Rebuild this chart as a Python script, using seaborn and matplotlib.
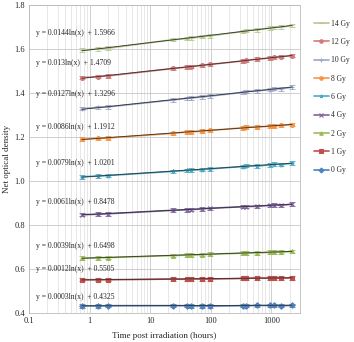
import numpy as np
import seaborn as sns
import matplotlib.pyplot as plt

# time points (hours) and net optical density per dose
times = [0.75, 1.4, 2, 24, 40, 48, 72, 96, 336, 384, 576, 960, 1128, 1440, 2200]
doses = ["14 Gy", "12 Gy", "10 Gy", "8 Gy", "6 Gy", "4 Gy", "2 Gy", "1 Gy", "0 Gy"]
od_14 = [1.595, 1.601, 1.604, 1.643, 1.648, 1.650, 1.657, 1.660, 1.680, 1.684, 1.688, 1.696, 1.699, 1.700, 1.708]
od_12 = [1.470, 1.475, 1.478, 1.512, 1.518, 1.520, 1.526, 1.530, 1.546, 1.549, 1.554, 1.560, 1.562, 1.566, 1.570]
od_10 = [1.329, 1.335, 1.337, 1.369, 1.376, 1.378, 1.383, 1.386, 1.403, 1.407, 1.410, 1.416, 1.420, 1.419, 1.427]
od_8 = [1.190, 1.194, 1.196, 1.217, 1.223, 1.224, 1.227, 1.230, 1.242, 1.246, 1.245, 1.250, 1.251, 1.253, 1.257]
od_6 = [1.019, 1.023, 1.025, 1.044, 1.048, 1.049, 1.052, 1.055, 1.066, 1.070, 1.068, 1.074, 1.078, 1.075, 1.081]
od_4 = [0.847, 0.849, 0.851, 0.867, 0.869, 0.870, 0.873, 0.876, 0.883, 0.884, 0.885, 0.889, 0.892, 0.889, 0.895]
od_2 = [0.649, 0.651, 0.652, 0.661, 0.663, 0.663, 0.665, 0.667, 0.672, 0.673, 0.673, 0.676, 0.678, 0.676, 0.680]
od_1 = [0.551, 0.551, 0.551, 0.554, 0.553, 0.555, 0.554, 0.554, 0.557, 0.557, 0.559, 0.558, 0.559, 0.558, 0.560]
od_0 = [0.432, 0.432, 0.433, 0.433, 0.433, 0.432, 0.432, 0.431, 0.433, 0.433, 0.434, 0.434, 0.434, 0.433, 0.434]
series = [od_14, od_12, od_10, od_8, od_6, od_4, od_2, od_1, od_0]

# trendline equations as printed on the chart
slopes = [0.0144, 0.013, 0.0127, 0.0086, 0.0079, 0.0061, 0.0039, 0.0012, 0.0003]
intercepts = [1.5966, 1.4709, 1.3296, 1.1912, 1.0201, 0.8478, 0.6498, 0.5505, 0.4325]
eq_labels = ["y = 0.0144ln(x)  + 1.5966", "y = 0.013ln(x)  + 1.4709", "y = 0.0127ln(x)  + 1.3296",
             "y = 0.0086ln(x)  + 1.1912", "y = 0.0079ln(x)  + 1.0201", "y = 0.0061ln(x)  + 0.8478",
             "y = 0.0039ln(x)  + 0.6498", "y = 0.0012ln(x)  + 0.5505", "y = 0.0003ln(x)  + 0.4325"]
eq_y = [1.673, 1.536, 1.396, 1.246, 1.082, 0.905, 0.705, 0.600, 0.473]

colors = ["#B3C98A", "#D47A78", "#9AA6CB", "#F79646", "#4BACC6", "#8064A2", "#9BBB59", "#C0504D", "#4F81BD"]
markers = ["_", "o", "+", "o", "*", "x", "^", "s", "D"]

sns.set_style("white")
plt.rcParams["font.family"] = ["Liberation Serif", "DejaVu Serif"]

fig = plt.figure(figsize=(3.54, 3.42), dpi=100)
ax = fig.add_axes([0.082, 0.085, 0.766, 0.9])

for i, d in enumerate(doses):
    sns.lineplot(x=times, y=series[i], ax=ax, color=colors[i], marker=markers[i],
                 markersize=2.8, markeredgecolor=colors[i], markeredgewidth=0.8,
                 linewidth=1.2, label=d, errorbar=None)
    ax.errorbar(times, series[i], yerr=0.008, fmt="none", ecolor=colors[i],
                elinewidth=0.6, capsize=2, capthick=0.6)
    tx = np.array([times[0], times[-1]])
    ax.plot(tx, slopes[i] * np.log(tx) + intercepts[i], color="#333333", lw=0.6)
    ax.text(0.13, eq_y[i], eq_labels[i], fontsize=5.5, va="center", ha="left")

ax.set_xscale("log")
ax.set_xlim(0.1, 3000)
ax.set_ylim(0.4, 1.8)
ax.set_yticks(np.arange(0.4, 1.81, 0.2))
ax.set_xticks([0.1, 1, 10, 100, 1000])
ax.set_xticklabels(["0.1", "1", "10", "100", "1000"])
ax.tick_params(labelsize=6, length=0, pad=3)
ax.grid(True, which="major", color="#c8c8c8", lw=0.6)
ax.grid(True, which="minor", axis="x", color="#dddddd", lw=0.5)
for s in ax.spines.values():
    s.set_color("#bbbbbb")
    s.set_linewidth(0.6)
ax.set_xlabel("Time post irradiation (hours)", fontsize=6.5, labelpad=5)
ax.set_ylabel("Net optical density", fontsize=6.5, labelpad=2)

ax.legend(loc="upper left", bbox_to_anchor=(1.03, 0.97), frameon=False, fontsize=5.5,
          labelspacing=1.35, handlelength=2.0, handletextpad=0.3, borderaxespad=0.3,
          markerscale=0.9)

fig.savefig("out.png", dpi=100)
